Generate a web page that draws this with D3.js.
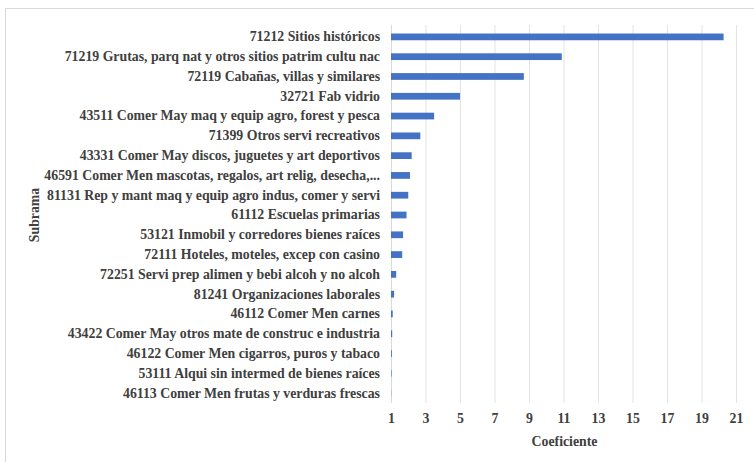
<!DOCTYPE html>
<html>
<head>
<meta charset="utf-8">
<script src="https://cdn.jsdelivr.net/npm/d3@7"></script>
<style>
  html, body { margin: 0; padding: 0; background: #fff; }
  svg { display: block; }
</style>
</head>
<body>
<svg id="chart" width="754" height="462"></svg>
<script>
// Subramas ordered by coefficient, largest first
const categories = [
  "71212 Sitios históricos",
  "71219 Grutas, parq nat y otros sitios patrim cultu nac",
  "72119 Cabañas, villas y similares",
  "32721 Fab vidrio",
  "43511 Comer May maq y equip agro, forest y pesca",
  "71399 Otros servi recreativos",
  "43331 Comer May discos, juguetes y art deportivos",
  "46591 Comer Men mascotas, regalos, art relig, desecha,...",
  "81131 Rep y mant maq y equip agro indus, comer y servi",
  "61112 Escuelas primarias",
  "53121 Inmobil y corredores bienes raíces",
  "72111 Hoteles, moteles, excep con casino",
  "72251 Servi prep alimen y bebi alcoh y no alcoh",
  "81241 Organizaciones laborales",
  "46112 Comer Men carnes",
  "43422 Comer May otros mate de construc e industria",
  "46122 Comer Men cigarros, puros y tabaco",
  "53111 Alqui sin intermed de bienes raíces",
  "46113 Comer Men frutas y verduras frescas"
];
const coeficiente = [20.28, 10.9, 8.7, 5.0, 3.5, 2.7, 2.2, 2.1, 2.0, 1.9,
                     1.7, 1.65, 1.3, 1.18, 1.1, 1.07, 1.05, 1.03, 1.01];
const xTicks = [1, 3, 5, 7, 9, 11, 13, 15, 17, 19, 21];
const xTitle = "Coeficiente";
const yTitle = "Subrama";

const FONT = "Liberation Serif";
const SIZE = 13.8;
const INK = "#404040";

const svg = d3.select("#chart");

function styleText(sel) {
  sel.attr("font-family", FONT)
     .attr("font-size", SIZE)
     .attr("font-weight", "bold")
     .attr("fill", INK);
}

// outer chart frame
svg.append("rect")
  .attr("x", 5.5).attr("y", 8.5)
  .attr("width", 760).attr("height", 470)
  .attr("fill", "#fff").attr("stroke", "#d9d9d9").attr("stroke-width", 1);

const plot = { left: 391, right: 736, top: 27, bottom: 403 };

const x = d3.scaleLinear().domain([1, 21]).range([plot.left, plot.right]);
const y = d3.scaleBand().domain(categories)
  .range([plot.top, plot.bottom]).paddingInner(0.66).paddingOuter(0.33);

// vertical gridlines
svg.append("g").selectAll("line").data(xTicks.slice(1)).join("line")
  .attr("x1", d => x(d) + 0.5).attr("x2", d => x(d) + 0.5)
  .attr("y1", plot.top - 2).attr("y2", plot.bottom)
  .attr("stroke", "#e3e3e3").attr("stroke-width", 1);

// category axis line
svg.append("line")
  .attr("x1", x(1) + 0.5).attr("x2", x(1) + 0.5)
  .attr("y1", plot.top - 2).attr("y2", plot.bottom)
  .attr("stroke", "#d9d9d9");

// bars
svg.append("g").selectAll("rect").data(categories).join("rect")
  .attr("x", x(1))
  .attr("y", d => y(d))
  .attr("width", (d, i) => Math.max(0, x(coeficiente[i]) - x(1)))
  .attr("height", y.bandwidth())
  .attr("fill", "#4472c4");

// category labels
const gy = svg.append("g").attr("transform", `translate(${x(1)},0)`)
  .call(d3.axisLeft(y).tickSize(0).tickPadding(11));
gy.select(".domain").remove();
styleText(gy);
styleText(gy.selectAll("text"));

// value axis labels
const gx = svg.append("g").attr("transform", `translate(0,${plot.bottom + 1})`)
  .call(d3.axisBottom(x).tickValues(xTicks).tickSize(0).tickPadding(9));
gx.select(".domain").remove();
styleText(gx);
styleText(gx.selectAll("text"));

// axis titles
svg.append("text")
  .attr("x", (plot.left + plot.right) / 2 + 1).attr("y", 446)
  .attr("text-anchor", "middle")
  .call(styleText).text(xTitle);

svg.append("text")
  .attr("transform", "translate(39,215) rotate(-90)")
  .attr("text-anchor", "middle")
  .call(styleText).text(yTitle);
</script>
</body>
</html>
